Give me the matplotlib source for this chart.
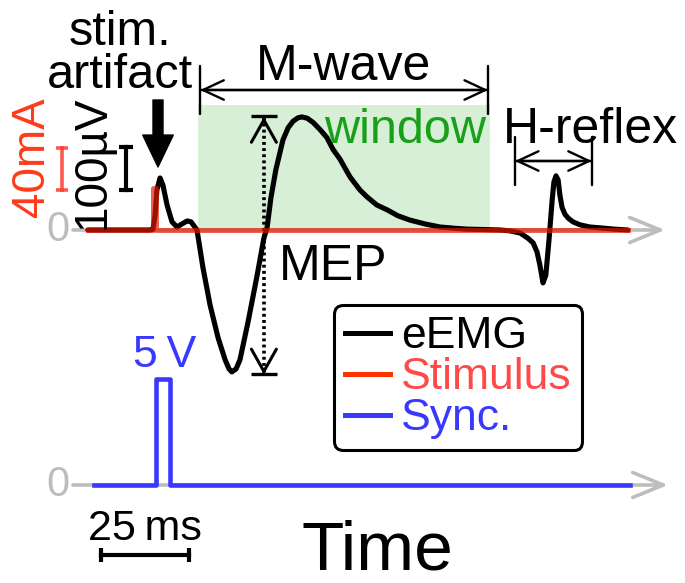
import matplotlib
matplotlib.use('Agg')
import matplotlib.pyplot as plt
from matplotlib.lines import Line2D

plt.rcParams['font.family'] = ['Liberation Sans', 'DejaVu Sans']

# eEMG trace: time after stimulus onset (ms), amplitude (uV)
emg_points = [
    (-18.5, 0), (-0.9, 0), (0.0, 2), (0.6, 35), (1.1, 93), (2.0, 121), (2.8, 105),
    (4.0, 58), (5.4, 19), (6.8, 7), (8.2, 14), (9.7, 21), (10.8, 19), (11.7, 9),
    (12.5, 0), (14.2, -88), (16.2, -174), (18.5, -251), (20.5, -302), (21.6, -323),
    (22.4, -330), (23.6, -323), (24.7, -302), (27.0, -214), (29.5, -109),
    (31.5, -19), (32.4, 5), (33.5, 75), (34.9, 140), (36.9, 209),
    (38.4, 238), (39.8, 253), (41.2, 261), (42.3, 263), (43.8, 260), (45.5, 250),
    (47.4, 234), (49.4, 215), (51.1, 188), (53.1, 165), (56.0, 123), (58.8, 93),
    (60.8, 77), (63.6, 58), (66.5, 47), (69.6, 33), (73.0, 23), (77.3, 14),
    (81.5, 7), (85.8, 4), (89.2, 2), (94.3, 1), (98.6, 0), (101.4, -2), (104.3, -7),
    (106.5, -19), (108.0, -30), (109.1, -51), (109.9, -81), (110.8, -123),
    (111.6, -105), (112.5, -23), (113.4, 70), (113.9, 112), (114.5, 126),
    (115.1, 116), (115.6, 81), (116.2, 53), (117.0, 37), (117.9, 28), (119.3, 19),
    (121.3, 12), (124.1, 7), (127.0, 5), (131.0, 2), (134.9, 0),
]
emg_t = [p[0] for p in emg_points]
emg_uv = [p[1] for p in emg_points]

# stimulus current (mA)
stim_t = [-18.5, 0.0, 0.0, 0.8, 0.8, 134.9]
stim_ma = [0, 0, 40, 40, 0, 0]

# sync output (V)
sync_t = [-16.8, 0.9, 0.9, 4.8, 4.8, 135.5]
sync_v = [0, 0, 5, 5, 0, 0]

# M-wave window and H-reflex window (ms)
mwave_win = (12.8, 95.7)
mwave_arrow = (13.4, 95.2)
hreflex_arrow = (102.8, 124.7)
mep_t = 31.5

# scale bars
scale_ms = 25
scale_uv = 100
scale_ma = 40

# ---- layout (image pixels) ----
W, H = 685, 583
PX_MS = 3.52      # px per ms
T0 = 153          # px of stimulus onset
EMG_Y0, PX_UV = 230, 0.43
PX_MA = 1.05
SYNC_Y0, PX_V = 485, 21.2


def P(x, y):
    return (x / W, 1 - y / H)


def t_of(x):
    return (x - T0) / PX_MS


def uv_of(y):
    return (EMG_Y0 - y) / PX_UV


fig = plt.figure(figsize=(6.85, 5.83), dpi=100)
ax = fig.add_axes([0, 0, 1, 1])
ax_stim = fig.add_axes([0, 0, 1, 1], sharex=ax)
ax_sync = fig.add_axes([0, 0, 1, 1], sharex=ax)
for a in (ax, ax_stim, ax_sync):
    a.set_axis_off()

ax.set_xlim(-T0 / PX_MS, (W - T0) / PX_MS)
ax.set_ylim(-(H - EMG_Y0) / PX_UV, EMG_Y0 / PX_UV)
ax_stim.set_ylim(-(H - EMG_Y0) / PX_MA, EMG_Y0 / PX_MA)
ax_sync.set_ylim(-(H - SYNC_Y0) / PX_V, SYNC_Y0 / PX_V)

grey = '#bdbdbd'
red = '#e81800'
blue = '#3838ff'
arrow_head = '->,head_length=1.1,head_width=0.45'

# M-wave window
ax.fill_between(mwave_win, 0, uv_of(105), color='#d7efd7', lw=0, zorder=0)

# time axes
ax.annotate('', xy=(t_of(665), 0), xytext=(t_of(73), 0),
            arrowprops=dict(arrowstyle=arrow_head, color=grey, lw=2.6,
                            mutation_scale=20, shrinkA=0, shrinkB=0), zorder=1)
ax_sync.annotate('', xy=(t_of(668), 0), xytext=(t_of(73), 0),
                 arrowprops=dict(arrowstyle=arrow_head, color=grey, lw=2.6,
                                 mutation_scale=20, shrinkA=0, shrinkB=0), zorder=1)

# signals
ax.plot(emg_t, emg_uv, color='black', lw=3.7, solid_joinstyle='round',
        solid_capstyle='round', zorder=3)
ax_stim.plot(stim_t, stim_ma, color=red, lw=3.6, alpha=0.68, zorder=3)
ax_sync.plot(sync_t, sync_v, color=blue, lw=3.3, zorder=3)

# MEP peak-to-peak arrow (dotted)
v_hi, v_lo = max(emg_uv), min(emg_uv)
ax.plot([mep_t, mep_t], [v_lo, v_hi], color='black', lw=2.6, ls=(0, (0.8, 0.9)), zorder=5)
ax.plot([mep_t, mep_t], [v_lo - 6, v_hi + 3], color='black', ls='none',
        marker='_', ms=19, mew=2.4, zorder=5)
for tip, back in ((v_hi, v_hi - 1), (v_lo - 6, v_lo - 5)):
    ax.annotate('', xy=(mep_t, tip), xytext=(mep_t, back),
                arrowprops=dict(arrowstyle='->,head_length=0.8,head_width=0.45',
                                lw=2.2, color='black', mutation_scale=20,
                                shrinkA=0, shrinkB=0), zorder=5)

# M-wave and H-reflex span arrows
for span, y in ((mwave_arrow, uv_of(90)), (hreflex_arrow, uv_of(161))):
    for style in ('<->,head_length=0.75,head_width=0.35', '|-|,widthA=0.85,widthB=0.85'):
        ax_sync.annotate('', xy=(span[1], y), xytext=(span[0], y),
                         xycoords=ax.transData, textcoords=ax.transData,
                         arrowprops=dict(arrowstyle=style, lw=1.7, color='black',
                                         mutation_scale=20, shrinkA=0, shrinkB=0))

# stim. artifact arrow
ax_sync.annotate('', xy=P(158, 167), xytext=P(158, 100),
                 xycoords='figure fraction', textcoords='figure fraction',
                 arrowprops=dict(arrowstyle='simple,head_length=1.15,head_width=1.1,tail_width=0.36',
                                 color='black', mutation_scale=20, shrinkA=0, shrinkB=0))

# scale bars
ax_stim.plot([t_of(62)] * 2, [38, 38 + scale_ma], color='#ff3b30', lw=2.6, marker='_',
             ms=8, mew=2.6, alpha=0.85)
ax.plot([t_of(126)] * 2, [93, 93 + scale_uv], color='black', lw=3.0, marker='_',
        ms=10, mew=3.0)
ax.plot([t_of(101), t_of(101) + scale_ms], [uv_of(555)] * 2, color='black', lw=3.0,
        marker='|', ms=10, mew=3.0)

# text
tk = dict(transform=ax_sync.transAxes)
fs = 36
ax_sync.text(*P(120, 88), 'stim.\nartifact', fontsize=35, ha='center', va='baseline',
             multialignment='center', linespacing=0.95, **tk)
ax_sync.text(*P(343, 80), 'M-wave', fontsize=fs, ha='center', va='baseline', **tk)
ax_sync.text(*P(405, 143), 'window', fontsize=35, color='#19a019', ha='center', va='baseline', **tk)
ax_sync.text(*P(590, 143), 'H-reflex', fontsize=fs, ha='center', va='baseline', **tk)
ax_sync.text(*P(279, 280), 'MEP', fontsize=fs, ha='left', va='baseline', **tk)
ax_sync.text(*P(32, 157), '40mA', fontsize=33, color='#ff3a1a', rotation=90,
             ha='center', va='center', **tk)
ax_sync.text(*P(93, 162), '100µV', fontsize=33, rotation=90, ha='center', va='center', **tk)
ax_sync.text(*P(165, 367), '5\u2009V', fontsize=32, color=blue, ha='center', va='baseline', **tk)
ax_sync.text(*P(145, 540), '25\u2009ms', fontsize=31, ha='center', va='baseline', **tk)
ax_sync.text(*P(377, 583), 'Time', fontsize=50, ha='center', va='bottom', **tk)
ax_sync.text(*P(70, 230), '0', fontsize=30, color=grey, ha='right', va='center', **tk)
ax_sync.text(*P(70, 485), '0', fontsize=30, color=grey, ha='right', va='center', **tk)

# legend
handles = [Line2D([], [], color='black', lw=3.6),
           Line2D([], [], color='#ff3300', lw=3.6),
           Line2D([], [], color=blue, lw=3.6)]
leg = ax_sync.legend(handles, ['eEMG', 'Stimulus', 'Sync.'], loc='upper left',
                     bbox_to_anchor=P(334, 305), bbox_transform=fig.transFigure,
                     fontsize=32, labelcolor=['black', '#ff4a4a', blue],
                     frameon=True, fancybox=True, framealpha=1, edgecolor='black',
                     borderaxespad=0, borderpad=0.25, handlelength=1.0,
                     handletextpad=0.25, labelspacing=0.0)
leg.get_frame().set_linewidth(2.2)

fig.savefig('out.png', dpi=100, facecolor='white')
